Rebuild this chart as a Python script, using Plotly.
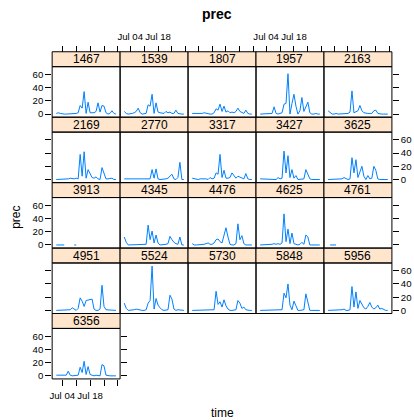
import plotly.graph_objects as go
import pandas as pd

# ---------------- data ----------------
stations = ["1467", "1539", "1807", "1957", "2163",
            "2169", "2770", "3317", "3427", "3625",
            "3913", "4345", "4476", "4625", "4761",
            "4951", "5524", "5730", "5848", "5956",
            "6356"]

N = None
prec_1467 = [1,2,1,0,0,0,0,1,1,0,1,2,13,9,34,1,18,2,2,2,4,17,3,13,12,2,0,1,5,1,0]
prec_1539 = [4,1,0,0,1,2,4,9,2,0,0,1,14,12,30,1,17,3,2,1,1,4,2,3,1,1,6,1,0,0,0]
prec_1807 = [1,1,0,0,0,1,2,1,0,0,0,2,8,6,15,4,12,3,5,2,3,2,4,9,4,2,1,6,1,0,0]
prec_1957 = [0,0,0,0,0,1,1,11,1,0,1,2,15,16,61,0,16,30,12,0,5,25,4,10,18,2,0,0,1,0,0]
prec_2163 = [5,3,0,0,1,0,0,1,0,1,1,3,35,2,4,5,13,5,2,1,1,1,1,5,6,1,0,0,0,0,0]
prec_2169 = [0,0,1,0,0,1,1,2,1,1,2,1,38,5,42,2,15,10,3,2,4,1,0,18,10,1,1,1,2,0,0]
prec_2770 = [1,1,0,0,0,0,0,0,0,0,0,0,0,1,15,2,16,1,0,0,0,1,2,5,8,1,0,3,26,0,0]
prec_3317 = [2,1,0,0,1,1,2,1,0,3,1,2,10,8,38,3,14,2,2,3,10,5,2,5,4,2,1,9,1,0,0]
prec_3427 = [1,1,0,0,0,0,1,1,0,3,1,2,43,10,36,3,15,2,6,0,0,1,1,15,7,1,0,0,0,0,0]
prec_3625 = [0,0,0,0,0,1,1,1,3,1,0,1,33,10,30,3,12,20,5,0,6,1,2,20,14,1,0,0,0,0,0]
prec_3913 = [0,0,0,0,0,N,N,N,N,0,0,N,N,N,N,N,N,N,N,N,N,N,N,N,N,N,N,N,N,N,N]
prec_4345 = [12,4,0,0,0,0,0,0,0,0,0,1,30,8,21,3,15,3,0,0,0,1,2,13,8,4,2,1,12,0,0]
prec_4476 = [2,0,0,0,0,1,1,2,3,1,1,3,8,9,5,3,14,26,12,1,0,0,2,32,8,14,2,0,0,0,0]
prec_4625 = [0,0,0,0,0,0,1,2,1,2,1,3,47,5,24,2,18,2,1,0,1,4,1,15,12,0,0,0,0,0,0]
prec_4761 = [N,0,0,0,0,N,N,N,N,N,N,N,N,N,N,N,N,N,N,N,N,N,N,N,N,N,N,N,N,N,N]
prec_4951 = [0,0,0,0,0,0,0,1,4,2,0,3,19,14,6,15,16,17,17,2,0,0,2,38,6,1,1,1,0,0,0]
prec_5524 = [11,3,0,0,0,1,2,1,1,0,0,1,11,15,67,2,18,8,4,1,0,0,1,23,17,2,0,1,1,0,0]
prec_5730 = [0,0,0,0,0,0,0,0,0,0,1,1,29,9,13,5,16,7,2,0,0,0,1,15,11,3,5,1,0,0,0]
prec_5848 = [0,0,0,0,0,0,0,1,0,0,0,1,26,19,40,8,1,14,7,0,0,0,1,25,10,0,0,0,0,0,0]
prec_5956 = [0,0,0,0,0,0,0,1,2,0,0,1,36,5,28,3,15,10,4,2,6,12,5,2,4,8,2,3,1,0,0]
prec_6356 = [1,1,0,0,0,1,7,1,0,0,0,1,13,5,22,2,14,2,1,0,1,1,0,17,15,1,0,0,0,0,0]

series = [prec_1467, prec_1539, prec_1807, prec_1957, prec_2163,
          prec_2169, prec_2770, prec_3317, prec_3427, prec_3625,
          prec_3913, prec_4345, prec_4476, prec_4625, prec_4761,
          prec_4951, prec_5524, prec_5730, prec_5848, prec_5956,
          prec_6356]

dates = pd.date_range("2000-07-01", "2000-07-31", freq="D")
x_tick_vals = ["2000-07-04", "2000-07-11", "2000-07-18", "2000-07-25", "2000-08-01"]
x_tick_text = ["Jul 04", "", "Jul 18", "", ""]
y_tick_vals = [0, 20, 40, 60]

# ---------------- geometry / style ----------------
W, H = 414, 420
LEFT, COLW = 49.5, 68.45
TOP, ROWH, STRIPH = 52.0, 65.75, 15.0
NCOL = 5
FONT = "Liberation Sans, Arial, sans-serif"
LINE = "#0080ff"
STRIP = "#ffe5cc"

def px(x):
    return x / W

def py(y):
    return 1 - y / H

span = dates[-1] - dates[0]
x_range = [str(dates[0] - 0.07 * span), str(dates[-1] + 0.07 * span)]
ymax = max(v for s in series for v in s if v is not None)
y_range = [-0.07 * ymax, 1.07 * ymax]

fig = go.Figure()
layout = {}
shapes = []
annotations = []
nrows = (len(stations) + NCOL - 1) // NCOL
tickfont = dict(family=FONT, size=9.6, color="#000")

for i, (name, vals) in enumerate(zip(stations, series)):
    r, c = divmod(i, NCOL)
    n = i + 1
    xa = "x" if n == 1 else f"x{n}"
    ya = "y" if n == 1 else f"y{n}"
    x0 = LEFT + c * COLW
    x1 = x0 + COLW
    s_top = TOP + r * ROWH
    s_bot = s_top + STRIPH
    p_bot = s_top + ROWH

    fig.add_trace(go.Scatter(x=dates, y=vals, mode="lines",
                             line=dict(color=LINE, width=1),
                             xaxis=xa, yaxis=ya, showlegend=False,
                             connectgaps=False, hoverinfo="skip"))

    last_in_row = (c == NCOL - 1) or (i == len(stations) - 1)
    xax = dict(domain=[px(x0), px(x1)], range=x_range, type="date",
               showgrid=False, zeroline=False, showline=False,
               tickvals=x_tick_vals, ticktext=x_tick_text, tickangle=0,
               tickfont=tickfont, ticklen=6, tickcolor="#000", tickwidth=1,
               ticklabelstandoff=2, anchor=ya)
    if r == 0:
        xax.update(side="top", anchor="free", position=py(s_top),
                   ticks="outside", showticklabels=(c % 2 == 1))
    elif r == nrows - 1:
        xax.update(side="bottom", ticks="outside", showticklabels=(c % 2 == 0))
    else:
        xax.update(ticks="", showticklabels=False)

    yax = dict(domain=[py(p_bot), py(s_bot)], range=y_range,
               showgrid=False, zeroline=False, showline=False,
               tickvals=y_tick_vals, tickangle=0,
               tickfont=tickfont, ticklen=6, tickcolor="#000", tickwidth=1,
               anchor=xa)
    if c == 0:
        yax.update(side="left", ticks="outside", showticklabels=(r % 2 == 0))
    elif c == NCOL - 1:
        yax.update(side="right", ticks="outside", showticklabels=(r % 2 == 1))
    else:
        yax.update(ticks="", showticklabels=False)

    layout["xaxis" if n == 1 else f"xaxis{n}"] = xax
    layout["yaxis" if n == 1 else f"yaxis{n}"] = yax

    # extra right-hand ticks for a last-row panel that sits in column 0
    if c == 0 and last_in_row and c != NCOL - 1:
        m = len(stations) + 1
        layout[f"yaxis{m}"] = dict(domain=[py(p_bot), py(s_bot)], range=y_range,
                                   overlaying=ya, side="right", anchor=xa,
                                   showgrid=False, zeroline=False, showline=False,
                                   tickvals=y_tick_vals, ticks="outside",
                                   ticklen=6, tickcolor="#000", tickwidth=1,
                                   showticklabels=False)
        fig.add_trace(go.Scatter(x=[], y=[], xaxis=xa, yaxis=f"y{m}",
                                 showlegend=False, hoverinfo="skip"))

    # strip
    shapes.append(dict(type="rect", xref="paper", yref="paper",
                       x0=px(x0), x1=px(x1), y0=py(s_bot), y1=py(s_top),
                       fillcolor=STRIP, line=dict(color="#000", width=1),
                       layer="below"))
    # panel box
    shapes.append(dict(type="rect", xref="paper", yref="paper",
                       x0=px(x0), x1=px(x1), y0=py(p_bot), y1=py(s_bot),
                       fillcolor="rgba(0,0,0,0)", line=dict(color="#000", width=1),
                       layer="above"))
    annotations.append(dict(text=name, x=px((x0 + x1) / 2), y=py((s_top + s_bot) / 2),
                            xref="paper", yref="paper", showarrow=False,
                            xanchor="center", yanchor="middle",
                            font=dict(family=FONT, size=12, color="#000")))

annotations.append(dict(text="<b>prec</b>", x=px(216), y=py(14), xref="paper", yref="paper",
                        showarrow=False, xanchor="center", yanchor="middle",
                        font=dict(family=FONT, size=14, color="#000")))
annotations.append(dict(text="time", x=px(220.7), y=py(415), xref="paper", yref="paper",
                        showarrow=False, xanchor="center", yanchor="middle",
                        font=dict(family=FONT, size=12, color="#000")))
annotations.append(dict(text="prec", x=px(13), y=py(218), xref="paper", yref="paper",
                        showarrow=False, xanchor="center", yanchor="middle", textangle=-90,
                        font=dict(family=FONT, size=12, color="#000")))

fig.update_layout(width=W, height=H, margin=dict(l=0, r=0, t=0, b=0),
                  paper_bgcolor="white", plot_bgcolor="rgba(0,0,0,0)",
                  shapes=shapes, annotations=annotations, showlegend=False,
                  **layout)

fig.write_html("out.html")
